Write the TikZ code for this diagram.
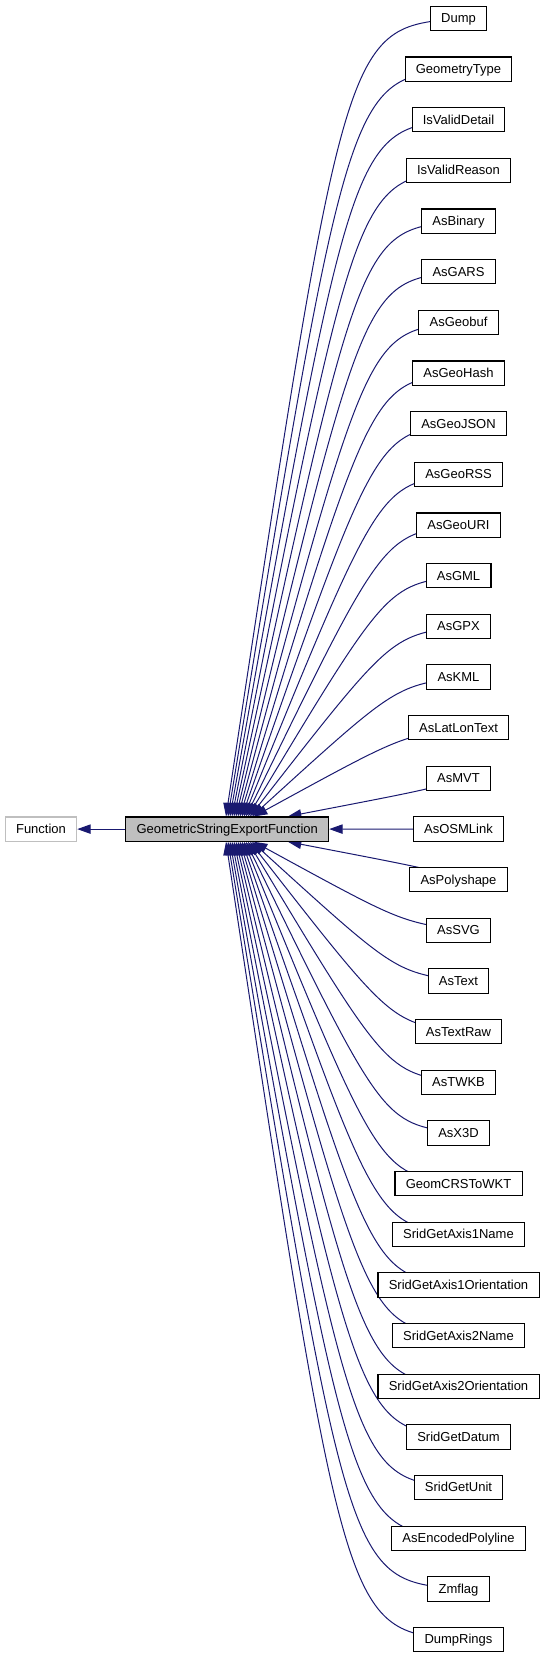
\documentclass[tikz,border=0pt]{standalone}
\usepackage{fontspec}
\setmainfont{Liberation Sans}
\usetikzlibrary{arrows.meta}
\definecolor{edgecol}{HTML}{191970}
\definecolor{boxgray}{HTML}{BFBFBF}
\pgfdeclarelayer{bg}
\pgfsetlayers{bg,main}
\begin{document}
\begin{tikzpicture}[x=0.75pt,y=-0.75pt,
  every node/.style={font=\fontsize{9.75}{11}\selectfont, inner xsep=8.1pt, inner ysep=0pt,
    minimum height=18.2pt, text height=7pt, text depth=0.5pt, line width=0.8pt},
  leaf/.style={draw=black, fill=white},
  mainbox/.style={draw=black, fill=boxgray},
  extbox/.style={draw=boxgray, fill=white},
  edge/.style={draw=edgecol, line width=0.75pt, {Triangle[length=10pt,width=7pt]}-}
]
\useasboundingbox (0,0) rectangle (545,1659);
\node[mainbox] (c) at (227.2,829.1) {GeometricStringExportFunction};
\node[extbox] (fn) at (41,829.1) {Function};
\foreach \nm [count=\i from 0] in {Dump, GeometryType, IsValidDetail, IsValidReason, AsBinary, AsGARS, AsGeobuf, AsGeoHash, AsGeoJSON, AsGeoRSS, AsGeoURI, AsGML, AsGPX, AsKML, AsLatLonText, AsMVT, AsOSMLink, AsPolyshape, AsSVG, AsText, AsTextRaw, AsTWKB, AsX3D, GeomCRSToWKT, SridGetAxis1Name, SridGetAxis1Orientation, SridGetAxis2Name, SridGetAxis2Orientation, SridGetDatum, SridGetUnit, AsEncodedPolyline, Zmflag, DumpRings} {
  \pgfmathsetmacro\y{18.5+50.66*\i}
  \node[leaf] (n\i) at (458.5,\y) {\nm};
}
\draw[edge] (fn) -- (c);
\draw[edge] (c) -- (n16);
\begin{pgfonlayer}{bg}
\foreach \i in {0,...,15}{
  \pgfmathsetmacro\y{18.5+50.66*\i}
  \pgfmathsetmacro\h{816-\y}
  \pgfmathsetmacro\xe{\i==15 ? 288 : 226+2*\i}
  \pgfmathsetmacro\xs{(\xe-227.2)*0.75}
  \pgfmathsetmacro\kx{\xe+147-0.035*\h}
  \pgfmathsetmacro\ky{\y+10}
  \draw[edge] ([xshift=\xs pt]c.north) .. controls (\kx,\ky) and (\kx,\ky) .. (n\i.center);
}
\foreach \i in {17,...,32}{
  \pgfmathsetmacro\y{18.5+50.66*\i}
  \pgfmathsetmacro\h{\y-842}
  \pgfmathsetmacro\xe{\i==17 ? 288 : 226+2*(32-\i)}
  \pgfmathsetmacro\xs{(\xe-227.2)*0.75}
  \pgfmathsetmacro\kx{\xe+147-0.035*\h}
  \pgfmathsetmacro\ky{\y-10}
  \draw[edge] ([xshift=\xs pt]c.south) .. controls (\kx,\ky) and (\kx,\ky) .. (n\i.center);
}
\end{pgfonlayer}
\end{tikzpicture}
\end{document}
